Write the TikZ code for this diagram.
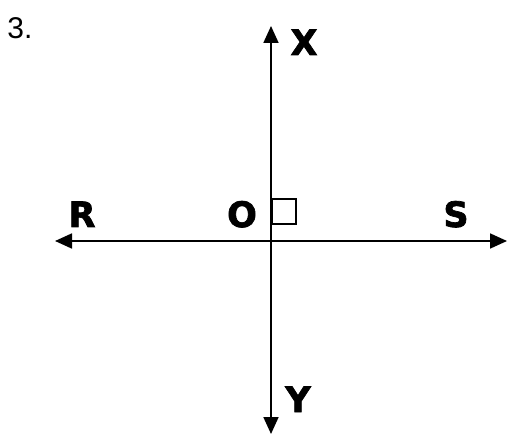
\documentclass[tikz,border=0pt]{standalone}
\usepackage{fontspec}
\setmainfont{Liberation Sans}
\newfontfamily\heavyfont[FakeBold=2]{DejaVu Sans Bold}
\usetikzlibrary{arrows.meta}

\begin{document}
\begin{tikzpicture}[
    x=1pt, y=-1pt,
    axis/.style={line width=1.8pt, {Triangle[length=17pt, width=15pt]}-{Triangle[length=17pt, width=15pt]}},
    letter/.style={font=\heavyfont\fontsize{35}{35}\selectfont, inner sep=0pt, anchor=base},
    number/.style={font=\fontsize{30}{30}\selectfont, inner sep=0pt, anchor=base}
]
\useasboundingbox (0,0) rectangle (508,435);

% axis ends
\coordinate (r) at (55,241);
\coordinate (s) at (507,241);
\coordinate (x) at (271,26);
\coordinate (y) at (271,434);

% lines
\draw[axis] (r) -- (s);
\draw[axis] (x) -- (y);

% right angle mark
\draw[line width=1.3pt] (272,199) rectangle (296,224);

% labels
\node[number] (num) at (20,39) {3.};
\node[letter] (lx) at (304,55) {X};
\node[letter] (lr) at (82,227) {R};
\node[letter] (lo) at (242,227) {O};
\node[letter] (ls) at (456,227) {S};
\node[letter] (ly) at (298,412) {Y};

\end{tikzpicture}
\end{document}
